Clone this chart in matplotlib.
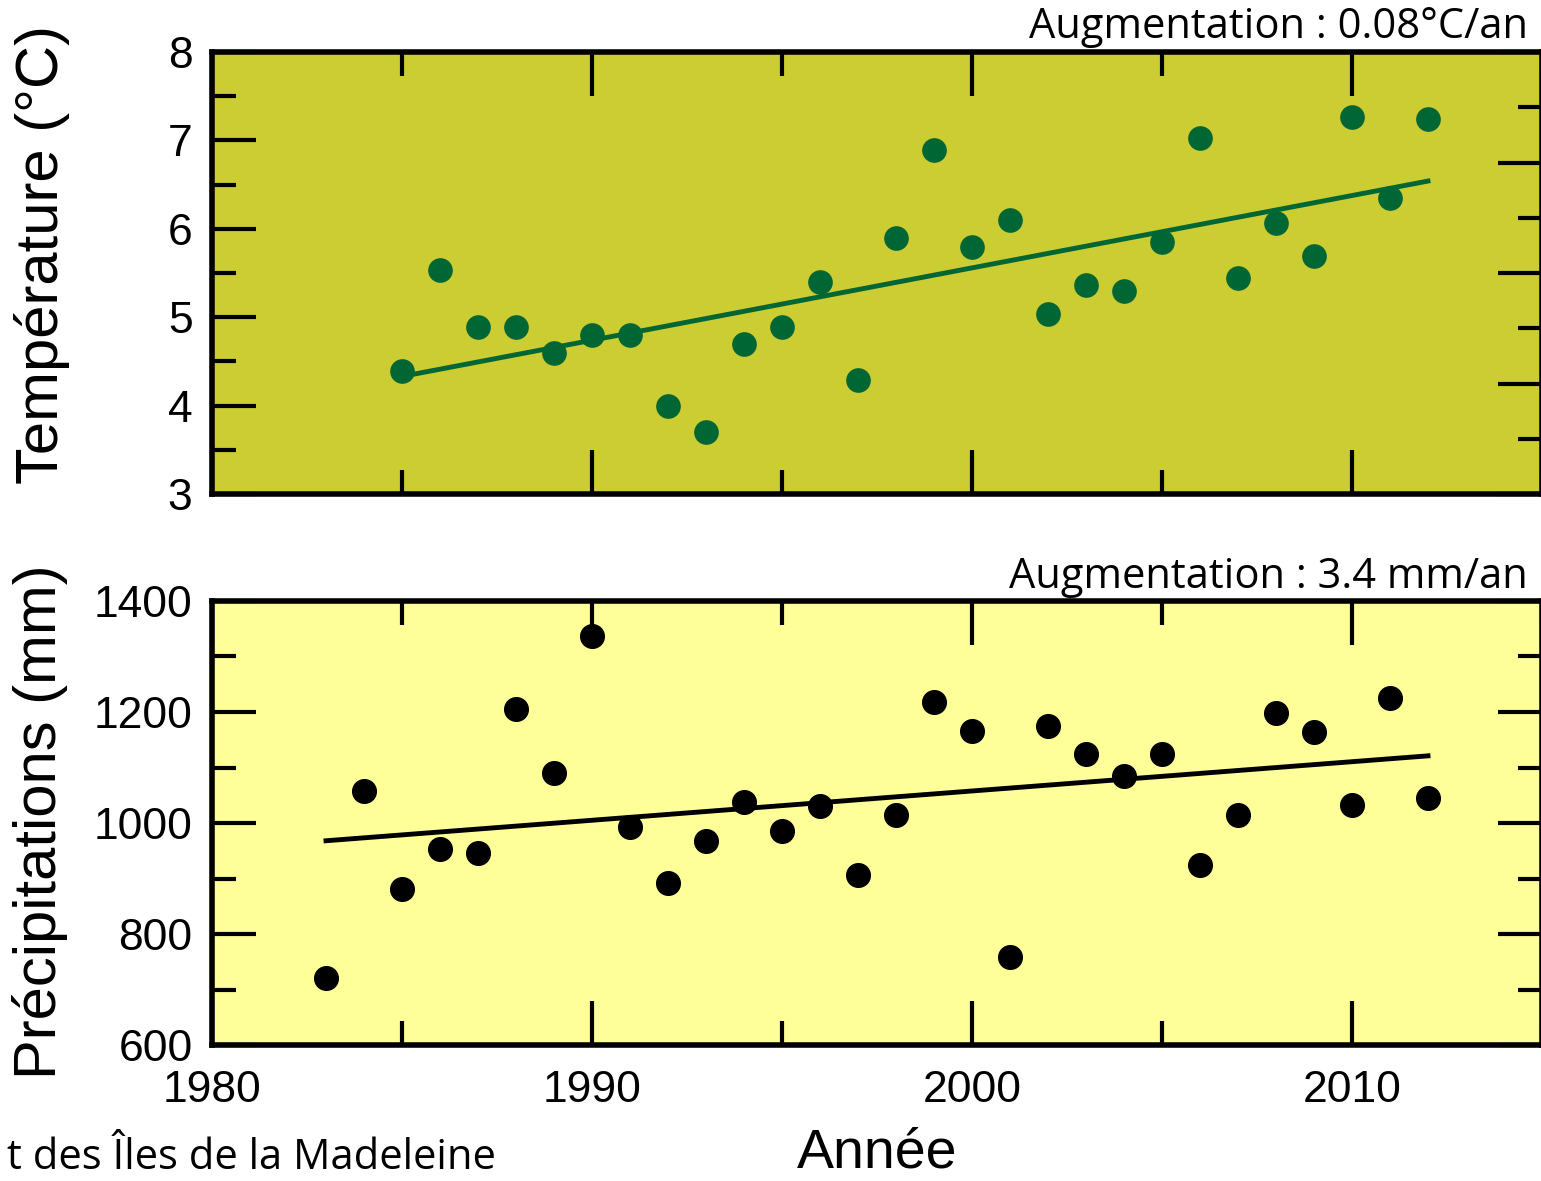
import matplotlib.pyplot as plt
from matplotlib.ticker import MultipleLocator, NullFormatter

years_temp = list(range(1985, 2013))
temp = [4.39, 5.53, 4.89, 4.89, 4.60, 4.80, 4.80, 4.00, 3.70, 4.70,
        4.89, 5.40, 4.29, 5.90, 6.89, 5.79, 6.10, 5.04, 5.36, 5.30,
        5.85, 7.03, 5.44, 6.07, 5.69, 7.26, 6.35, 7.24]
temp_trend_years = [1985, 2012]
temp_trend = [4.33, 6.54]

years_precip = list(range(1983, 2013))
precip = [720, 1058, 881, 953, 946, 1205, 1090, 1337, 993, 892,
          968, 1038, 986, 1031, 906, 1014, 1218, 1166, 759, 1175,
          1124, 1085, 1124, 924, 1014, 1198, 1164, 1032, 1225, 1045]
precip_trend_years = [1983, 2012]
precip_trend = [968, 1121]

W, H = 1541, 1181
fig = plt.figure(figsize=(W / 100, H / 100), dpi=100)
plt.rcParams['font.family'] = ['Liberation Sans', 'DejaVu Sans']

left = 212 / W
width = 1330 / W


def style(ax, ymaj, ymin):
    ax.set_xlim(1980, 2015)
    ax.xaxis.set_major_locator(MultipleLocator(10))
    ax.xaxis.set_minor_locator(MultipleLocator(5))
    ax.yaxis.set_major_locator(MultipleLocator(ymaj))
    ax.yaxis.set_minor_locator(MultipleLocator(ymin))
    ax.tick_params(which='both', direction='in', width=3, top=True, bottom=True,
                   left=True, labelsize=32, colors='black')
    ax.tick_params(which='major', length=32)
    ax.tick_params(which='minor', length=17)
    ax.tick_params(axis='y', pad=14)
    ax.tick_params(axis='x', pad=18)
    for s in ax.spines.values():
        s.set_linewidth(4)


# temperature panel
ax1 = fig.add_axes([left, 1 - 494 / H, width, 442 / H])
ax1.set_facecolor('#cccc33')
style(ax1, 1, 0.5)
ax1.set_ylim(3, 8)
ax1.tick_params(labelbottom=False, right=False)
ax1.scatter(years_temp, temp, s=280, color='#006633', zorder=3, clip_on=False)
ax1.plot(temp_trend_years, temp_trend, color='#006633', lw=3.5, zorder=2)
ax1r = ax1.twinx()
ax1r.set_ylim(0, 8)
ax1r.yaxis.set_major_locator(MultipleLocator(2))
ax1r.yaxis.set_minor_locator(MultipleLocator(1))
ax1r.yaxis.set_major_formatter(NullFormatter())
ax1r.tick_params(which='both', direction='in', width=3)
ax1r.tick_params(which='major', length=32)
ax1r.tick_params(which='minor', length=17)
for s in ax1r.spines.values():
    s.set_visible(False)

# precipitation panel
ax2 = fig.add_axes([left, 1 - 1045 / H, width, 444 / H])
ax2.set_facecolor('#ffff99')
style(ax2, 200, 100)
ax2.set_ylim(600, 1400)
ax2.tick_params(which='both', right=True)
ax2.scatter(years_precip, precip, s=290, color='black', zorder=3, clip_on=False)
ax2.plot(precip_trend_years, precip_trend, color='black', lw=3.5, zorder=2)

fig.text(42 / W, 1 - 255 / H, 'Température (°C)', rotation=90, ha='center',
         va='center', fontsize=43)
fig.text(40 / W, 1 - 822 / H, 'Précipitations (mm)', rotation=90, ha='center',
         va='center', fontsize=43)
fig.text(877 / W, 2 / H, 'Année', ha='center', va='bottom', fontsize=40)

ann = ['Open Sans', 'DejaVu Sans']
fig.text(1528 / W, 1 - 38 / H, 'Augmentation : 0.08°C/an', ha='right',
         va='baseline', fontsize=30, family=ann)
fig.text(1528 / W, 1 - 588 / H, 'Augmentation : 3.4 mm/an', ha='right',
         va='baseline', fontsize=30, family=ann)
fig.text(7 / W, 2 / H, 't des Îles de la Madeleine', ha='left', va='bottom',
         fontsize=30, family=ann)

fig.savefig('out.png', dpi=100)
